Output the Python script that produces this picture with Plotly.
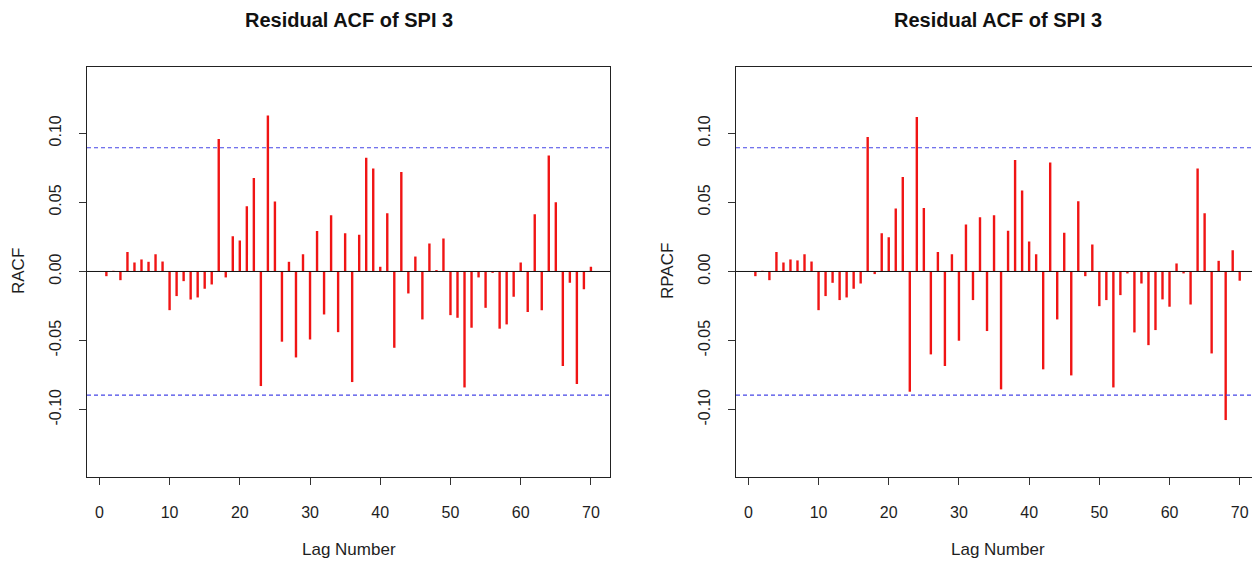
import plotly.graph_objects as go

# Lags and residual correlation estimates
lags = list(range(1, 71))

racf = [
    -0.0034, 0.0005, -0.0063, 0.0140, 0.0065, 0.0087, 0.0070, 0.0125, 0.0072, -0.0280,
    -0.0178, -0.0070, -0.0203, -0.0188, -0.0125, -0.0094, 0.0959, -0.0043, 0.0255, 0.0224,
    0.0472, 0.0677, -0.0829, 0.1128, 0.0506, -0.0508, 0.0070, -0.0622, 0.0125, -0.0492,
    0.0292, -0.0311, 0.0407, -0.0439, 0.0277, -0.0800, 0.0265, 0.0822, 0.0745, 0.0034,
    0.0422, -0.0552, 0.0720, -0.0159, 0.0108, -0.0347, 0.0202, 0.0010, 0.0239, -0.0316,
    -0.0335, -0.0839, -0.0407, -0.0043, -0.0263, -0.0010, -0.0414, -0.0383, -0.0183, 0.0065,
    -0.0294, 0.0414, -0.0280, 0.0839, 0.0501, -0.0684, -0.0082, -0.0814, -0.0128, 0.0034,
]

rpacf = [
    -0.0034, 0.0005, -0.0063, 0.0140, 0.0065, 0.0087, 0.0080, 0.0125, 0.0072, -0.0280,
    -0.0178, -0.0082, -0.0207, -0.0188, -0.0125, -0.0087, 0.0973, -0.0019, 0.0277, 0.0248,
    0.0455, 0.0684, -0.0870, 0.1118, 0.0460, -0.0600, 0.0140, -0.0684, 0.0125, -0.0501,
    0.0340, -0.0207, 0.0393, -0.0431, 0.0407, -0.0853, 0.0294, 0.0807, 0.0586, 0.0217,
    0.0125, -0.0708, 0.0788, -0.0347, 0.0280, -0.0752, 0.0508, -0.0034, 0.0195, -0.0251,
    -0.0207, -0.0839, -0.0171, -0.0014, -0.0441, -0.0087, -0.0533, -0.0424, -0.0202, -0.0255,
    0.0058, -0.0014, -0.0239, 0.0745, 0.0422, -0.0593, 0.0077, -0.1075, 0.0154, -0.0067,
]

conf_bound = 0.0895  # approx. 1.96 / sqrt(n)

x_ticks = [0, 10, 20, 30, 40, 50, 60, 70]
y_ticks = [-0.10, -0.05, 0.00, 0.05, 0.10]
y_tick_text = ["-0.10", "-0.05", "0.00", "0.05", "0.10"]

title_text = "Residual ACF of SPI 3"
x_title = "Lag Number"
y_titles = ["RACF", "RPACF"]

FONT = "Liberation Sans, Arial, Helvetica, sans-serif"
TEXT = "#1e1e1e"
W, H = 1252, 561


def stems(xs, ys):
    sx, sy = [], []
    for x, y in zip(xs, ys):
        sx += [x, x, None]
        sy += [0, y, None]
    return sx, sy


fig = go.Figure()

for i, vals in enumerate([racf, rpacf]):
    sx, sy = stems(lags, vals)
    fig.add_trace(go.Scatter(
        x=sx, y=sy, mode="lines",
        line=dict(color="#f01414", width=2.4),
        xaxis="x" if i == 0 else "x2", yaxis="y" if i == 0 else "y2",
        hoverinfo="skip", showlegend=False,
    ))

# pixel layout of the two panels
top_px, bot_px = 66.5, 477
left_panel = (87, 610.3)
right_panel = (736, 1252)
ydom = [(H - bot_px) / H, (H - top_px) / H]
yrange = [-0.1487, 0.1483]

common_x = dict(
    tickmode="array", tickvals=x_ticks, ticktext=[str(t) for t in x_ticks],
    ticks="outside", ticklen=7, tickwidth=1, tickcolor="#333",
    showline=True, linecolor="#222", linewidth=1, mirror=True,
    showgrid=False, zeroline=False, ticklabelstandoff=14,
    tickfont=dict(family=FONT, size=16, color=TEXT),
)
common_y = dict(
    tickmode="array", tickvals=y_ticks, ticktext=y_tick_text, tickangle=-90,
    ticks="outside", ticklen=7, tickwidth=1, tickcolor="#333",
    showline=True, linecolor="#222", linewidth=1,
    showgrid=False, zeroline=False, range=yrange, ticklabelstandoff=12,
    tickfont=dict(family=FONT, size=16, color=TEXT),
)

fig.update_layout(
    width=W, height=H,
    margin=dict(l=0, r=0, t=0, b=0),
    paper_bgcolor="white", plot_bgcolor="white",
    xaxis=dict(common_x, domain=[left_panel[0] / W, left_panel[1] / W],
               range=[-1.76, 72.76], anchor="y"),
    yaxis=dict(common_y, domain=ydom, anchor="x", mirror=True),
    xaxis2=dict(common_x, domain=[right_panel[0] / W, 1.0],
                range=[-1.76, 71.75], anchor="y2"),
    yaxis2=dict(common_y, domain=ydom, anchor="x2", mirror=False),
)

shapes = []
for xr, yr in [("x", "y"), ("x2", "y2")]:
    shapes.append(dict(type="line", xref=f"{xr} domain", yref=yr, x0=0, x1=1, y0=0, y1=0,
                       line=dict(color="#111", width=1), layer="above"))
    for b in (conf_bound, -conf_bound):
        shapes.append(dict(type="line", xref=f"{xr} domain", yref=yr, x0=0, x1=1, y0=b, y1=b,
                           line=dict(color="#4646e6", width=1.2, dash="4px,3px"), layer="above"))
fig.update_layout(shapes=shapes)

annotations = []
centers = [(left_panel[0] + left_panel[1]) / 2, 997.5]
ytitle_x = [18, 667]
for i in range(2):
    annotations.append(dict(
        text=f"<b>{title_text}</b>", xref="paper", yref="paper",
        x=centers[i] / W, y=(H - 20) / H, xanchor="center", yanchor="middle",
        showarrow=False, font=dict(family=FONT, size=20, color="#111"),
    ))
    annotations.append(dict(
        text=x_title, xref="paper", yref="paper",
        x=centers[i] / W, y=(H - 549) / H, xanchor="center", yanchor="middle",
        showarrow=False, font=dict(family=FONT, size=17, color=TEXT),
    ))
    annotations.append(dict(
        text=y_titles[i], xref="paper", yref="paper", textangle=-90,
        x=ytitle_x[i] / W, y=(H - 271) / H, xanchor="center", yanchor="middle",
        showarrow=False, font=dict(family=FONT, size=17, color=TEXT),
    ))
fig.update_layout(annotations=annotations)

fig.write_html("out.html")
